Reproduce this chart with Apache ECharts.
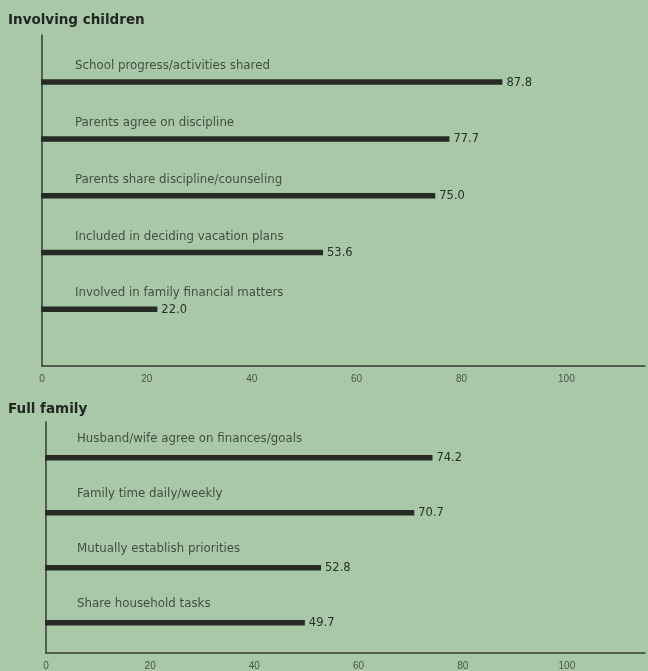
<!DOCTYPE html>
<html>
<head>
<meta charset="utf-8">
<script src="https://cdn.jsdelivr.net/npm/echarts@6/dist/echarts.min.js"></script>
<style>
  html, body { margin: 0; padding: 0; background: #a9c8a8; }
  #chart { width: 648px; height: 671px; }
</style>
</head>
<body>
<div id="chart"></div>
<script>
// Percent of families reporting each practice
const childCategories = [
  'School progress/activities shared',
  'Parents agree on discipline',
  'Parents share discipline/counseling',
  'Included in deciding vacation plans',
  'Involved in family financial matters'
];
const childValues = [87.8, 77.7, 75.0, 53.6, 22.0];

const familyCategories = [
  'Husband/wife agree on finances/goals',
  'Family time daily/weekly',
  'Mutually establish priorities',
  'Share household tasks'
];
const familyValues = [74.2, 70.7, 52.8, 49.7];

const xTicks = [0, 20, 40, 60, 80, 100];

const ink = '#262b26';
const textColor = '#283028';
const font = 'Liberation Sans, Arial, sans-serif';
const wideFont = 'DejaVu Sans, Verdana, sans-serif';

function rows(values) {
  // row index 1..n down the panel
  return values.map((v, i) => [v, i + 1]);
}
function nameRows(names) {
  return names.map((n, i) => ({ value: [0, i + 1], name: n }));
}

function xAxis(gridIndex) {
  return {
    gridIndex, type: 'value', min: 0, max: 115, interval: 20,
    axisLine: { show: true, lineStyle: { color: '#363b36', width: 1.5 } },
    axisTick: { show: false },
    splitLine: { show: false },
    axisLabel: {
      color: '#4a524a', fontFamily: font, fontSize: 10, margin: 8,
      formatter: v => (xTicks.indexOf(v) >= 0 ? String(v) : '')
    }
  };
}
function yAxis(gridIndex, min, max) {
  return {
    gridIndex, type: 'value', min, max, inverse: true,
    axisLine: { show: true, onZero: false, lineStyle: { color: '#363b36', width: 1.5 } },
    axisTick: { show: false }, axisLabel: { show: false }, splitLine: { show: false }
  };
}
// Horizontal bar drawn from zero to the value, with the value printed at its end
function barSeries(idx, values) {
  return {
    type: 'custom', xAxisIndex: idx, yAxisIndex: idx,
    data: rows(values), encode: { x: 0, y: 1 },
    silent: true,
    renderItem(params, api) {
      const v = api.value(0), row = api.value(1);
      const a = api.coord([0, row]);
      const b = api.coord([v, row]);
      return {
        type: 'group',
        children: [
          { type: 'rect', shape: { x: a[0] - 1, y: a[1] - 2.75, width: b[0] - a[0] + 1, height: 5.5 },
            style: { fill: ink } },
          { type: 'text', x: b[0] + 4, y: a[1] + 0.5,
            style: { text: v.toFixed(1), fill: textColor, font: '11.5px ' + wideFont,
                     verticalAlign: 'middle', align: 'left' } }
        ]
      };
    }
  };
}
function nameSeries(idx, names, dx, dy) {
  return {
    type: 'scatter', xAxisIndex: idx, yAxisIndex: idx,
    data: nameRows(names), symbolSize: 0,
    label: {
      show: true, position: 'right', offset: [dx, dy],
      formatter: p => p.name,
      color: textColor, fontFamily: wideFont, fontSize: 11.8
    },
    silent: true
  };
}

const chart = echarts.init(document.getElementById('chart'));
chart.setOption({
  backgroundColor: '#a9c8a8',
  animation: false,
  title: [
    { text: 'Involving children', left: 3, top: 8,
      textStyle: { fontFamily: wideFont, fontSize: 13.5, fontWeight: 'bold', color: '#222722' } },
    { text: 'Full family', left: 3, top: 397,
      textStyle: { fontFamily: wideFont, fontSize: 13.5, fontWeight: 'bold', color: '#222722' } }
  ],
  grid: [
    { left: 42, right: 0, top: 35, height: 331 },
    { left: 46, right: 0, top: 422, height: 233 }
  ],
  xAxis: [xAxis(0), xAxis(1)],
  yAxis: [yAxis(0, 0.17, 6.0), yAxis(1, 0.35, 4.55)],
  series: [
    barSeries(0, childValues),
    nameSeries(0, childCategories, 28, -16),
    barSeries(1, familyValues),
    nameSeries(1, familyCategories, 26, -19)
  ]
});
</script>
</body>
</html>
